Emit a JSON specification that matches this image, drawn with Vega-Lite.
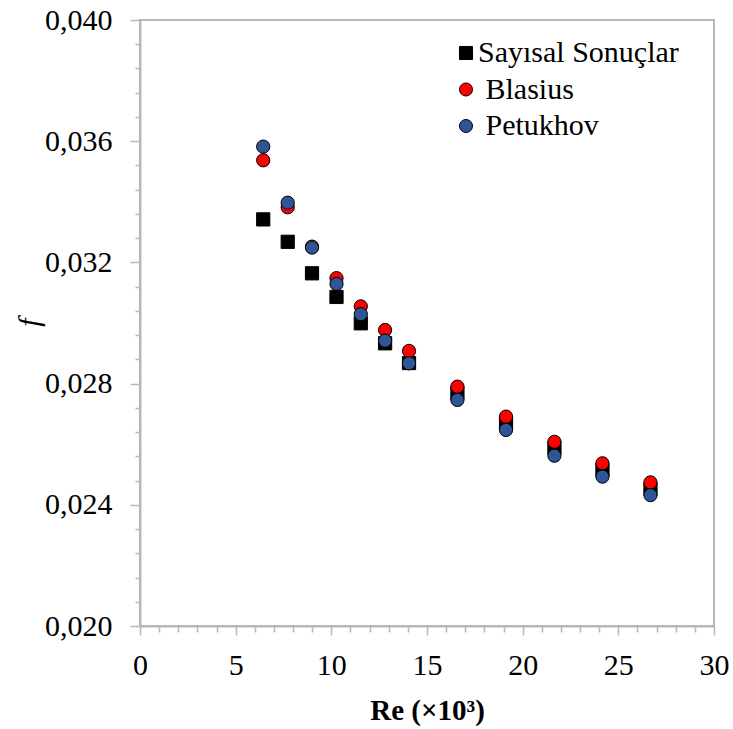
{
  "$schema": "https://vega.github.io/schema/vega-lite/v6.json",
  "width": 574,
  "height": 606,
  "autosize": "none",
  "padding": {"left": 140, "top": 20, "right": 19, "bottom": 103},
  "background": "white",
  "config": {
    "font": "Liberation Serif",
    "axis": {"labelFont": "Liberation Serif", "titleFont": "Liberation Serif"},
    "legend": {"labelFont": "Liberation Serif"},
    "view": {"stroke": "#b7b7b7", "strokeWidth": 2}
  },
  "data": {
    "values": [
      {"Re": 6.44, "f": 0.03342, "series": "Sayısal Sonuçlar"},
      {"Re": 7.72, "f": 0.03268, "series": "Sayısal Sonuçlar"},
      {"Re": 8.99, "f": 0.03164, "series": "Sayısal Sonuçlar"},
      {"Re": 10.27, "f": 0.03086, "series": "Sayısal Sonuçlar"},
      {"Re": 11.54, "f": 0.02999, "series": "Sayısal Sonuçlar"},
      {"Re": 12.81, "f": 0.02933, "series": "Sayısal Sonuçlar"},
      {"Re": 14.06, "f": 0.02868, "series": "Sayısal Sonuçlar"},
      {"Re": 16.59, "f": 0.02769, "series": "Sayısal Sonuçlar"},
      {"Re": 19.13, "f": 0.02670, "series": "Sayısal Sonuçlar"},
      {"Re": 21.66, "f": 0.02588, "series": "Sayısal Sonuçlar"},
      {"Re": 24.17, "f": 0.02515, "series": "Sayısal Sonuçlar"},
      {"Re": 26.68, "f": 0.02452, "series": "Sayısal Sonuçlar"},
      {"Re": 6.44, "f": 0.03537, "series": "Blasius"},
      {"Re": 7.72, "f": 0.03382, "series": "Blasius"},
      {"Re": 8.99, "f": 0.03252, "series": "Blasius"},
      {"Re": 10.27, "f": 0.03148, "series": "Blasius"},
      {"Re": 11.54, "f": 0.03055, "series": "Blasius"},
      {"Re": 12.81, "f": 0.02977, "series": "Blasius"},
      {"Re": 14.06, "f": 0.02908, "series": "Blasius"},
      {"Re": 16.59, "f": 0.02790, "series": "Blasius"},
      {"Re": 19.13, "f": 0.02691, "series": "Blasius"},
      {"Re": 21.66, "f": 0.02608, "series": "Blasius"},
      {"Re": 24.17, "f": 0.02537, "series": "Blasius"},
      {"Re": 26.68, "f": 0.02474, "series": "Blasius"},
      {"Re": 6.44, "f": 0.03582, "series": "Petukhov"},
      {"Re": 7.72, "f": 0.03397, "series": "Petukhov"},
      {"Re": 8.99, "f": 0.03249, "series": "Petukhov"},
      {"Re": 10.27, "f": 0.03129, "series": "Petukhov"},
      {"Re": 11.54, "f": 0.03029, "series": "Petukhov"},
      {"Re": 12.81, "f": 0.02942, "series": "Petukhov"},
      {"Re": 14.06, "f": 0.02867, "series": "Petukhov"},
      {"Re": 16.59, "f": 0.02746, "series": "Petukhov"},
      {"Re": 19.13, "f": 0.02647, "series": "Petukhov"},
      {"Re": 21.66, "f": 0.02562, "series": "Petukhov"},
      {"Re": 24.17, "f": 0.02493, "series": "Petukhov"},
      {"Re": 26.68, "f": 0.02432, "series": "Petukhov"}
    ]
  },
  "mark": {"type": "point", "filled": true, "stroke": "black", "strokeWidth": 1, "size": 175, "opacity": 1},
  "encoding": {
    "x": {
      "field": "Re",
      "type": "quantitative",
      "scale": {"domain": [0, 30], "nice": false, "zero": false},
      "axis": {
        "values": [0,1,2,3,4,5,6,7,8,9,10,11,12,13,14,15,16,17,18,19,20,21,22,23,24,25,26,27,28,29,30],
        "labelExpr": "datum.value % 5 === 0 ? datum.label : ''",
        "labelOverlap": false,
        "labelFlush": false,
        "grid": false,
        "domainColor": "#b7b7b7",
        "domainWidth": 2,
        "tickColor": "#b7b7b7",
        "tickWidth": 1.5,
        "tickSize": {"condition": {"test": "datum.value % 5 === 0", "value": 9}, "value": 6},
        "labelFont": "Liberation Serif",
        "labelFontSize": 30,
        "labelColor": "black",
        "labelPadding": 15,
        "title": "Re (×10³)",
        "titleFont": "Liberation Serif",
        "titleFontSize": 29,
        "titleFontWeight": "bold",
        "titleColor": "black",
        "titleX": 287,
        "titleY": 93,
        "titleAlign": "center",
        "titleBaseline": "alphabetic"
      }
    },
    "y": {
      "field": "f",
      "type": "quantitative",
      "scale": {"domain": [0.02, 0.04], "nice": false, "zero": false},
      "axis": {
        "values": [0.02,0.0208,0.0216,0.0224,0.0232,0.024,0.0248,0.0256,0.0264,0.0272,0.028,0.0288,0.0296,0.0304,0.0312,0.032,0.0328,0.0336,0.0344,0.0352,0.036,0.0368,0.0376,0.0384,0.0392,0.04],
        "labelExpr": "abs(datum.value*250 - round(datum.value*250)) < 1e-6 ? replace(format(datum.value, '.3f'), '.', ',') : ''",
        "labelOverlap": false,
        "labelFlush": false,
        "grid": false,
        "domainColor": "#b7b7b7",
        "domainWidth": 2,
        "tickColor": "#b7b7b7",
        "tickWidth": 1.5,
        "tickSize": {"condition": {"test": "abs(datum.value*250 - round(datum.value*250)) < 1e-6", "value": 10}, "value": 5},
        "labelFont": "Liberation Serif",
        "labelFontSize": 30,
        "labelColor": "black",
        "labelPadding": 18,
        "title": "f",
        "titleFont": "Liberation Serif",
        "titleFontSize": 30,
        "titleFontStyle": "italic",
        "titleFontWeight": "normal",
        "titleColor": "black",
        "titleAngle": -90,
        "titleX": -111,
        "titleY": 302,
        "titleAlign": "center",
        "titleBaseline": "middle"
      }
    },
    "color": {
      "field": "series",
      "type": "nominal",
      "scale": {"domain": ["Sayısal Sonuçlar", "Blasius", "Petukhov"], "range": ["#000000", "#ff0000", "#2f5597"]},
      "legend": {
        "title": null,
        "orient": "none",
        "legendX": 311,
        "legendY": 18,
        "padding": 0,
        "symbolSize": 170,
        "symbolStrokeColor": "black",
        "symbolStrokeWidth": 1,
        "labelFontSize": 30,
        "labelFont": "Liberation Serif",
        "labelColor": "black",
        "labelOffset": -3,
        "rowPadding": 6.5,
        "labelLimit": 400,
        "labelExpr": "datum.value === 'Sayısal Sonuçlar' ? datum.label : '\u200b\u00a0' + datum.label"
      }
    },
    "shape": {
      "field": "series",
      "type": "nominal",
      "scale": {"domain": ["Sayısal Sonuçlar", "Blasius", "Petukhov"], "range": ["square", "circle", "circle"]},
      "legend": {
        "title": null,
        "orient": "none",
        "legendX": 311,
        "legendY": 18,
        "padding": 0,
        "symbolSize": 170,
        "symbolStrokeColor": "black",
        "symbolStrokeWidth": 1,
        "labelFontSize": 30,
        "labelFont": "Liberation Serif",
        "labelColor": "black",
        "labelOffset": -3,
        "rowPadding": 6.5,
        "labelLimit": 400,
        "labelExpr": "datum.value === 'Sayısal Sonuçlar' ? datum.label : '\u200b\u00a0' + datum.label"
      }
    }
  }
}
